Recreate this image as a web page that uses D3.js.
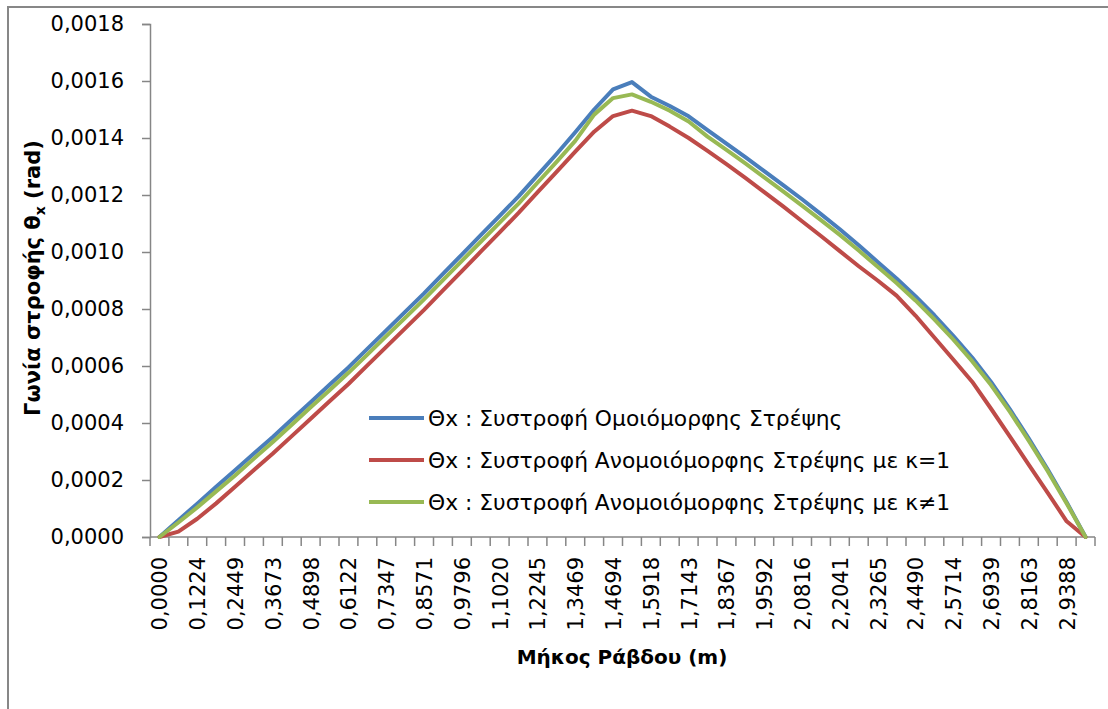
<!DOCTYPE html>
<html>
<head>
<meta charset="utf-8">
<script src="https://cdn.jsdelivr.net/npm/d3@7"></script>
<style>
  body { margin: 0; background: #fff; }
  text { font-family: "DejaVu Sans", sans-serif; fill: #000; }
</style>
</head>
<body>
<div id="viz"></div>
<script>
// x categories (Μήκος Ράβδου, m)
const lengths = ["0,0000","0,0612","0,1224","0,1837","0,2449","0,3061","0,3673","0,4286","0,4898","0,5510",
  "0,6122","0,6735","0,7347","0,7959","0,8571","0,9184","0,9796","1,0408","1,1020","1,1633",
  "1,2245","1,2857","1,3469","1,4082","1,4694","1,5306","1,5918","1,6531","1,7143","1,7755",
  "1,8367","1,8980","1,9592","2,0204","2,0816","2,1429","2,2041","2,2653","2,3265","2,3878",
  "2,4490","2,5102","2,5714","2,6327","2,6939","2,7551","2,8163","2,8776","2,9388","3,0000"]

const uniform = [0,0.000059,0.000117,0.000176,0.000234,0.000293,0.000351,0.000412,0.000473,0.000534,
  0.000595,0.000660,0.000725,0.000790,0.000855,0.000923,0.000991,0.001059,0.001127,0.001195,
  0.001269,0.001343,0.001420,0.001500,0.001571,0.001596,0.001545,0.001512,0.001476,0.001428,
  0.001380,0.001333,0.001284,0.001235,0.001185,0.001133,0.001080,0.001024,0.000965,0.000907,
  0.000845,0.000778,0.000706,0.000630,0.000544,0.000448,0.000345,0.000237,0.000122,0]

const nonUniformK1 = [0,0.000019,0.000064,0.000118,0.000176,0.000235,0.000293,0.000354,0.000415,0.000476,
  0.000537,0.000602,0.000667,0.000732,0.000797,0.000865,0.000933,0.001001,0.001069,0.001137,
  0.001209,0.001280,0.001352,0.001422,0.001477,0.001496,0.001477,0.001440,0.001400,0.001355,
  0.001308,0.001260,0.001210,0.001160,0.001108,0.001056,0.001003,0.000950,0.000900,0.000847,
  0.000777,0.000700,0.000623,0.000545,0.000450,0.000352,0.000253,0.000155,0.000055,0]

const nonUniformK = [0,0.000051,0.000104,0.000160,0.000216,0.000275,0.000333,0.000394,0.000455,0.000515,
  0.000576,0.000640,0.000705,0.000769,0.000834,0.000901,0.000969,0.001036,0.001103,0.001170,
  0.001243,0.001315,0.001390,0.001482,0.001540,0.001553,0.001527,0.001496,0.001458,0.001405,
  0.001358,0.001311,0.001262,0.001213,0.001163,0.001112,0.001060,0.001005,0.000948,0.000891,
  0.000830,0.000764,0.000693,0.000617,0.000533,0.000439,0.000337,0.000231,0.000118,0]

const yTicks = [0,0.0002,0.0004,0.0006,0.0008,0.0010,0.0012,0.0014,0.0016,0.0018]

const seriesNames = [
  "Θx : Συστροφή Ομοιόμορφης Στρέψης",
  "Θx : Συστροφή Ανομοιόμορφης Στρέψης με κ=1",
  "Θx : Συστροφή Ανομοιόμορφης Στρέψης με κ≠1"
]
const seriesColors = ["#4A7EBB", "#BE4B48", "#98B954"]

const width = 1108, height = 709
const margin = { top: 24, right: 13, bottom: 172, left: 150 }

const svg = d3.select("#viz").append("svg")
  .attr("width", width)
  .attr("height", height)

// outer chart frame (runs off the picture on right and bottom)
svg.append("rect")
  .attr("x", 8).attr("y", 7)
  .attr("width", width + 20).attr("height", height + 20)
  .attr("fill", "none").attr("stroke", "#878787").attr("stroke-width", 2)

const x = d3.scaleBand()
  .domain(lengths)
  .range([margin.left, width - margin.right])
  .padding(0)

const y = d3.scaleLinear()
  .domain([0, 0.0018])
  .range([height - margin.bottom, margin.top])

const fmt = d => d.toFixed(4).replace(".", ",")

// y axis
const yAxis = svg.append("g")
  .attr("transform", `translate(${margin.left},0)`)
  .call(d3.axisLeft(y).tickValues(yTicks).tickFormat(fmt).tickSize(8).tickPadding(18))
yAxis.select(".domain").attr("stroke", "#868686").attr("stroke-width", 1.5)
yAxis.selectAll(".tick line").attr("stroke", "#868686").attr("stroke-width", 1.5)
yAxis.selectAll(".tick text").attr("font-size", 21).attr("font-family", "DejaVu Sans").attr("fill", "#000")

// x axis: ticks between categories, labels on every second one
const x0 = y(0)
const xAxis = svg.append("g")
xAxis.append("line")
  .attr("x1", margin.left).attr("x2", width - margin.right)
  .attr("y1", x0).attr("y2", x0)
  .attr("stroke", "#868686").attr("stroke-width", 1.5)
xAxis.selectAll("line.tick")
  .data(lengths.concat(["end"]))
  .join("line")
  .attr("class", "tick")
  .attr("x1", (d, i) => i < lengths.length ? x(d) : x.range()[1])
  .attr("x2", (d, i) => i < lengths.length ? x(d) : x.range()[1])
  .attr("y1", x0).attr("y2", x0 + 9)
  .attr("stroke", "#868686").attr("stroke-width", 1.5)
xAxis.selectAll("text")
  .data(lengths.filter((d, i) => i % 2 === 0))
  .join("text")
  .attr("transform", d => `translate(${x(d) + x.bandwidth() / 2 + 8},${x0 + 20}) rotate(-90)`)
  .attr("text-anchor", "end")
  .attr("font-size", 21)
  .text(d => d)

// lines
const allSeries = [uniform, nonUniformK1, nonUniformK]
const line = d3.line()
  .x((d, i) => x(lengths[i]) + x.bandwidth() / 2)
  .y(d => y(d))

svg.append("g").selectAll("path")
  .data(allSeries)
  .join("path")
  .attr("d", d => line(d))
  .attr("fill", "none")
  .attr("stroke", (d, i) => seriesColors[i])
  .attr("stroke-width", 4)
  .attr("stroke-linejoin", "round")
  .attr("stroke-linecap", "round")

// legend
const legend = svg.append("g").attr("transform", "translate(369,418)")
const rows = legend.selectAll("g")
  .data(seriesNames)
  .join("g")
  .attr("transform", (d, i) => `translate(0,${i * 42})`)
rows.append("line")
  .attr("x1", 0).attr("x2", 55)
  .attr("stroke", (d, i) => seriesColors[i])
  .attr("stroke-width", 4)
rows.append("text")
  .attr("x", 59).attr("y", 8)
  .attr("font-size", 21.8)
  .text(d => d)

// axis titles
svg.append("text")
  .attr("x", 622).attr("y", 664)
  .attr("text-anchor", "middle")
  .attr("font-size", 20).attr("font-weight", "bold")
  .text("Μήκος Ράβδου (m)")

const yTitle = svg.append("text")
  .attr("transform", "translate(40,278) rotate(-90)")
  .attr("text-anchor", "middle")
  .attr("font-size", 21).attr("font-weight", "bold")
yTitle.append("tspan").text("Γωνία στροφής θ")
yTitle.append("tspan").attr("font-size", 14).attr("dy", 5).text("x")
yTitle.append("tspan").attr("dy", -5).text(" (rad)")
</script>
</body>
</html>
